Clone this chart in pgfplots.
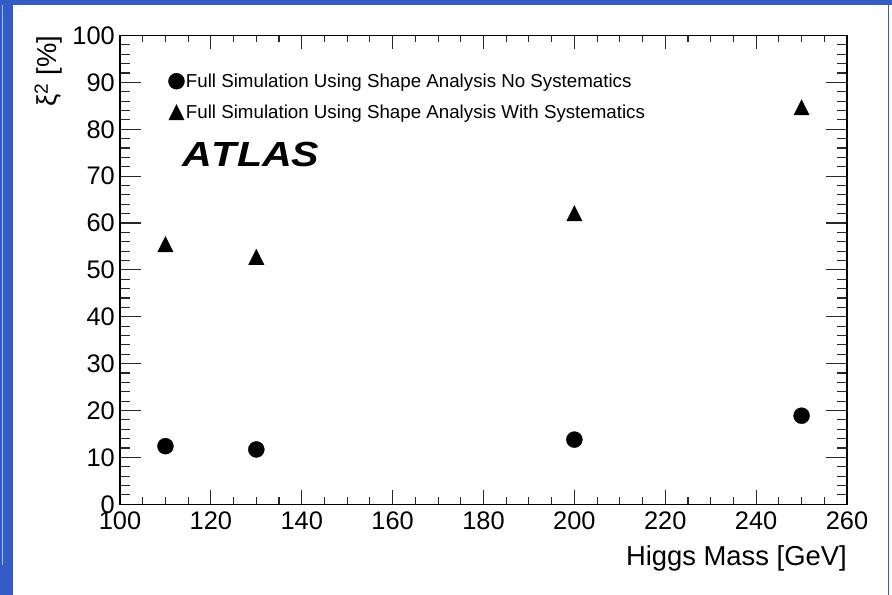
\documentclass[border=0pt]{standalone}
\usepackage{fontspec}
\setmainfont{Liberation Sans}
\usepackage{pgfplots}
\pgfplotsset{compat=1.18}

\definecolor{frameblue}{RGB}{52,92,200}
\definecolor{tickgray}{RGB}{40,40,40}

% ROOT-style upward triangle: as tall as it is wide
\pgfdeclareplotmark{rtri}{%
  \pgfpathmoveto{\pgfqpoint{-\pgfplotmarksize}{-\pgfplotmarksize}}%
  \pgfpathlineto{\pgfqpoint{\pgfplotmarksize}{-\pgfplotmarksize}}%
  \pgfpathlineto{\pgfqpoint{0pt}{\pgfplotmarksize}}%
  \pgfpathclose
  \pgfusepathqfill}

% shared frame of both axes
\pgfplotsset{
  rootframe/.style={
    scale only axis, width=727bp, height=468.8bp,
    xmin=100, xmax=260, ymin=0, ymax=100,
    tick align=inside,
    xtick pos=both, ytick pos=both,
    xticklabel pos=bottom, yticklabel pos=left,
    /pgf/number format/assume math mode=true,
    tick label style={font=\fontsize{25.5}{30}\selectfont},
    every tick/.style={tickgray, line width=1.1bp},
    axis line style={line width=1.4bp},
  }
}

\begin{document}
\begin{tikzpicture}
% slide frame behind the plot
\fill[frameblue] (-120bp,-90.7bp) rectangle (772bp,504.3bp);
\fill[white] (-107bp,-90.7bp) rectangle (767.5bp,499.3bp);
\fill[white] (769bp,-90.7bp) rectangle (772bp,499.3bp);
\draw[white!55!frameblue, line width=0.7bp] (-117.2bp,-60.7bp) -- (-117.2bp,499.3bp);

% y axis: long ticks, labels and title
\begin{axis}[
  rootframe,
  xtick=\empty,
  ytick={0,10,...,100}, minor y tick num=4,
  major tick length=21bp, minor tick length=10bp,
  yticklabel style={inner sep=0pt, xshift=-5bp},
  ylabel={ξ\textsuperscript{2} [\%]},
  ylabel style={font=\fontsize{27.5}{32}\selectfont, at={(rel axis cs:-0.0867,1)}, anchor=base east, inner sep=0pt},
]
\end{axis}

% x axis, data and legend
\begin{axis}[
  rootframe,
  ytick=\empty,
  xtick={100,120,...,260}, minor x tick num=3,
  major tick length=14bp, minor tick length=7bp,
  xticklabel style={inner sep=0pt, yshift=-7bp},
  xlabel={Higgs Mass [GeV]},
  xlabel style={font=\fontsize{27.5}{32}\selectfont, at={(rel axis cs:1,-0.1295)}, anchor=base east, inner sep=0pt},
  legend style={draw=none, fill=none, at={(0.0664,0.920)}, anchor=north west,
    inner sep=0pt, row sep=15bp, column sep=1.5bp,
    nodes={inner sep=0pt}, font=\fontsize{18.8}{22}\selectfont},
  legend cell align=left,
  legend image code/.code={\draw[#1] plot coordinates {(0bp,0bp)};},
]
\addplot[only marks, mark=*, mark size=8bp, black] coordinates {
  (110,12.4) (130,11.7) (200,13.8) (250,18.9)
};
\addlegendentry{Full Simulation Using Shape Analysis No Systematics}
\addplot[only marks, mark=rtri, mark size=8bp, black] coordinates {
  (110,55.5) (130,52.8) (200,62.1) (250,84.7)
};
\addlegendentry{Full Simulation Using Shape Analysis With Systematics}

\node[anchor=base west, inner sep=0pt, xscale=1.18,
      font=\fontsize{35}{40}\selectfont\bfseries\itshape\addfontfeatures{Kerning=Off}]
  at (rel axis cs:0.0853,0.7203) {ATLAS};
\end{axis}
\end{tikzpicture}
\end{document}
